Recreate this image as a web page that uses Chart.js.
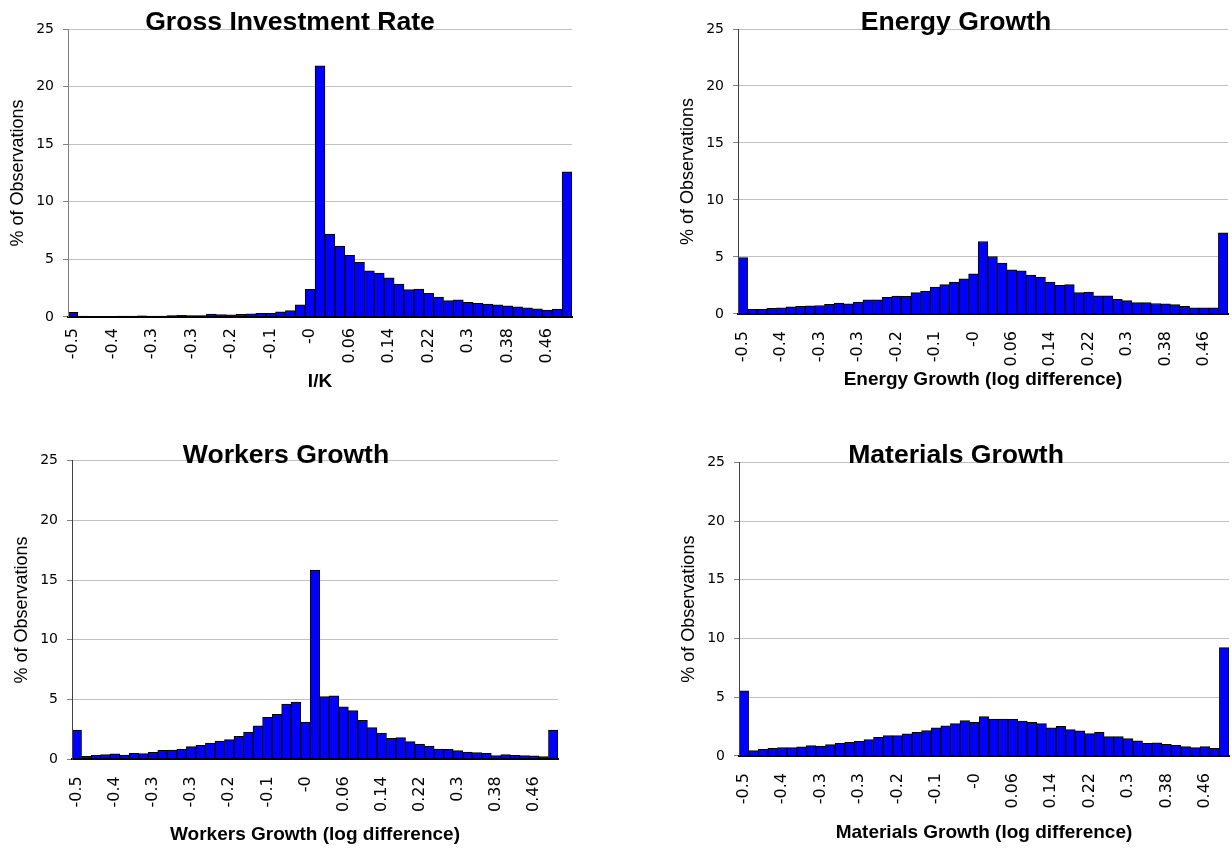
<!DOCTYPE html>
<html>
<head>
<meta charset="utf-8">
<script src="https://cdn.jsdelivr.net/npm/chart.js@4.4.1/dist/chart.umd.min.js"></script>
<style>
    html, body { margin: 0; padding: 0; background: #fff; }
    #page { position: relative; width: 1232px; height: 848px; overflow: hidden; }
    canvas { position: absolute; }
</style>
</head>
<body>
<div id="page">
    <canvas id="chart1" width="580" height="420" style="left:0px;top:0px"></canvas>
    <canvas id="chart2" width="562" height="420" style="left:670px;top:0px"></canvas>
    <canvas id="chart3" width="580" height="424" style="left:0px;top:424px"></canvas>
    <canvas id="chart4" width="562" height="424" style="left:670px;top:424px"></canvas>
</div>
<script>
// bins of width 0.02 from -0.5 to 0.5
const binLabels = [
    '-0.50', '-0.48', '-0.46', '-0.44', '-0.42', '-0.40', '-0.38', '-0.36', '-0.34', '-0.32',
    '-0.30', '-0.28', '-0.26', '-0.24', '-0.22', '-0.20', '-0.18', '-0.16', '-0.14', '-0.12',
    '-0.10', '-0.08', '-0.06', '-0.04', '-0.02', '0.00', '0.02', '0.04', '0.06', '0.08',
    '0.10', '0.12', '0.14', '0.16', '0.18', '0.20', '0.22', '0.24', '0.26', '0.28',
    '0.30', '0.32', '0.34', '0.36', '0.38', '0.40', '0.42', '0.44', '0.46', '0.48', '0.50'
];

// text shown under every 4th bin
const tickText = ['-0.5', '-0.4', '-0.3', '-0.3', '-0.2', '-0.1', '-0', '0.06', '0.14', '0.22', '0.3', '0.38', '0.46'];

// % of observations
const investRate = [
    0.4, 0.08, 0.05, 0.05, 0.05, 0.07, 0.07, 0.1, 0.07, 0.07,
    0.12, 0.15, 0.12, 0.12, 0.25, 0.2, 0.18, 0.22, 0.28, 0.32,
    0.32, 0.45, 0.55, 1.05, 2.4, 21.8, 7.2, 6.15, 5.35, 4.75,
    4.0, 3.8, 3.4, 2.85, 2.38, 2.42, 2.05, 1.72, 1.42, 1.48,
    1.27, 1.18, 1.12, 1.05, 0.97, 0.88, 0.8, 0.7, 0.6, 0.68, 12.6
];
const energyGrowth = [
    4.95, 0.41, 0.41, 0.5, 0.55, 0.62, 0.66, 0.72, 0.74, 0.84,
    0.95, 0.88, 1.05, 1.25, 1.25, 1.46, 1.57, 1.55, 1.87, 2.01,
    2.36, 2.57, 2.8, 3.09, 3.53, 6.36, 5.04, 4.46, 3.88, 3.79,
    3.41, 3.24, 2.8, 2.51, 2.57, 1.87, 1.92, 1.6, 1.6, 1.28,
    1.17, 0.99, 0.99, 0.92, 0.9, 0.82, 0.67, 0.55, 0.55, 0.55, 7.11
];
const workersGrowth = [
    2.45, 0.25, 0.33, 0.39, 0.45, 0.36, 0.5, 0.47, 0.58, 0.75,
    0.78, 0.86, 1.06, 1.17, 1.36, 1.53, 1.64, 1.92, 2.28, 2.81,
    3.51, 3.76, 4.62, 4.79, 3.12, 15.85, 5.24, 5.32, 4.4, 4.07,
    3.26, 2.65, 2.2, 1.75, 1.81, 1.48, 1.28, 1.11, 0.86, 0.84,
    0.72, 0.61, 0.56, 0.5, 0.31, 0.39, 0.33, 0.31, 0.28, 0.22, 2.45
];
const materialsGrowth = [
    5.54, 0.45, 0.57, 0.65, 0.71, 0.71, 0.77, 0.88, 0.85, 0.97,
    1.08, 1.16, 1.25, 1.39, 1.59, 1.73, 1.73, 1.88, 2.02, 2.16,
    2.39, 2.56, 2.76, 3.01, 2.87, 3.35, 3.15, 3.15, 3.12, 2.98,
    2.87, 2.76, 2.39, 2.53, 2.24, 2.13, 1.9, 2.02, 1.65, 1.65,
    1.48, 1.28, 1.08, 1.11, 0.99, 0.91, 0.8, 0.71, 0.8, 0.65, 9.23
];

const ARIAL = '"Liberation Sans", Arial, sans-serif';
const GOTHIC = '"DejaVu Sans", sans-serif';

// chart title drawn by hand so it can sit on the top gridline like the original
const chartTitle = {
    id: 'chartTitle',
    afterDraw(chart, args, opts) {
        const ctx = chart.ctx;
        ctx.save();
        ctx.font = 'bold 26.6px ' + ARIAL;
        ctx.fillStyle = '#000';
        ctx.textAlign = 'center';
        ctx.textBaseline = 'alphabetic';
        ctx.fillText(opts.text, opts.x, opts.y);
        ctx.restore();
    }
};

function makeChart(id, values, s) {
    return new Chart(document.getElementById(id), {
        type: 'bar',
        data: {
            labels: binLabels,
            datasets: [{
                data: values,
                backgroundColor: '#0000ff',
                borderColor: '#000000',
                borderWidth: 1,
                barPercentage: 1.0,
                categoryPercentage: 1.0
            }]
        },
        plugins: [chartTitle],
        options: {
            responsive: false,
            animation: false,
            devicePixelRatio: 1,
            layout: { padding: s.padding },
            plugins: {
                legend: { display: false },
                tooltip: { enabled: false },
                chartTitle: { text: s.title, x: s.titleX, y: s.titleY }
            },
            scales: {
                x: {
                    // rotated labels would otherwise reserve room on the right
                    afterFit: (sc) => { sc.paddingLeft = 0; sc.paddingRight = 0; },
                    grid: { display: false, drawTicks: false },
                    border: { display: true, color: '#000', width: 2, z: 1 },
                    ticks: {
                        autoSkip: false,
                        minRotation: 90,
                        maxRotation: 90,
                        padding: s.xTickPad,
                        color: '#000',
                        font: { family: GOTHIC, size: 16 },
                        callback: (v, i) => (i % 4 === 0 ? tickText[i / 4] : '')
                    },
                    title: {
                        display: true,
                        text: s.xTitle,
                        color: '#000',
                        font: { family: ARIAL, size: 19, weight: 'bold' },
                        padding: { top: s.xTitleTop, bottom: 0 }
                    }
                },
                y: {
                    min: 0,
                    max: 25,
                    grid: { color: '#c0c0c0', lineWidth: 1, tickLength: 5, tickColor: '#808080' },
                    border: { display: true, color: s.yColor, width: 1, z: 1 },
                    ticks: {
                        stepSize: 5,
                        padding: 9,
                        color: '#000',
                        font: { family: GOTHIC, size: 14 }
                    },
                    title: {
                        display: true,
                        text: '% of Observations',
                        color: '#000',
                        font: { family: ARIAL, size: 18 },
                        padding: { top: 4, bottom: -1.4 }
                    }
                }
            }
        }
    });
}

makeChart('chart1', investRate, {
    title: 'Gross Investment Rate', titleX: 290, titleY: 30,
    xTitle: 'I/K', xTickPad: 11, xTitleTop: -4, yColor: '#808080',
    padding: { left: 3, right: 8, top: 29, bottom: 26.6 }
});
makeChart('chart2', energyGrowth, {
    title: 'Energy Growth', titleX: 286, titleY: 30,
    xTitle: 'Energy Growth (log difference)', xTickPad: 17, xTitleTop: -15, yColor: '#404040',
    padding: { left: 3, right: 4, top: 29, bottom: 28.6 }
});
makeChart('chart3', workersGrowth, {
    title: 'Workers Growth', titleX: 286, titleY: 39,
    xTitle: 'Workers Growth (log difference)', xTickPad: 17, xTitleTop: -5.9, yColor: '#404040',
    padding: { left: 7, right: 22, top: 36.7, bottom: 2.2 }
});
makeChart('chart4', materialsGrowth, {
    title: 'Materials Growth', titleX: 286, titleY: 39,
    xTitle: 'Materials Growth (log difference)', xTickPad: 17, xTitleTop: -4, yColor: '#404040',
    padding: { left: 4, right: 3, top: 38.3, bottom: 3.6 }
});
</script>
</body>
</html>
